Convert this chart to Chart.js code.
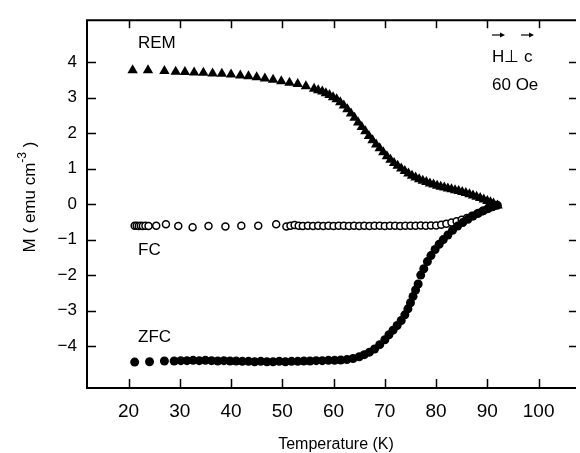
<!DOCTYPE html>
<html>
<head>
<meta charset="utf-8">
<script src="https://cdn.jsdelivr.net/npm/chart.js@4.4.1/dist/chart.umd.min.js"></script>
<style>
  html, body { margin: 0; padding: 0; background: #fff; }
  canvas { display: block; }
</style>
</head>
<body>
<canvas id="chart" width="580" height="453"></canvas>
<script>
// ticks
let xTicks = [20, 30, 40, 50, 60, 70, 80, 90, 100];
let yTicks = [-4, -3, -2, -1, 0, 1, 2, 3, 4];

// remanent (triangles)
let remT = [20.8, 23.8, 27.0, 29.2, 31.0, 32.8, 34.6, 36.4, 38.2, 40.0, 41.8, 43.4, 45.0, 46.6, 48.2, 49.8,
  51.4, 53.0, 54.6, 56.2, 57.0, 57.8, 58.5, 59.2, 59.9, 60.6, 61.3, 62.0, 62.7, 63.4, 64.1, 64.8,
  65.5, 66.2, 66.9, 67.6, 68.3, 69.0, 69.7, 70.4, 71.1, 71.8, 72.5, 73.2, 73.9, 74.6, 75.3, 76.0,
  76.7, 77.4, 78.1, 78.8, 79.5, 80.2, 80.9, 81.6, 82.3, 83.0, 83.7, 84.4, 85.1, 85.8, 86.5, 87.2,
  87.9, 88.6, 89.3, 90.0, 90.6, 91.2, 92.0];
let remM = [3.77, 3.77, 3.75, 3.73, 3.72, 3.71, 3.70, 3.68, 3.67, 3.65, 3.62, 3.60, 3.57, 3.54, 3.50, 3.46,
  3.42, 3.38, 3.32, 3.25, 3.21, 3.17, 3.12, 3.07, 3.01, 2.95, 2.87, 2.78, 2.67, 2.55, 2.43, 2.30,
  2.17, 2.05, 1.92, 1.80, 1.68, 1.57, 1.46, 1.35, 1.25, 1.16, 1.08, 1.00, 0.93, 0.86, 0.80, 0.75,
  0.70, 0.66, 0.62, 0.58, 0.55, 0.52, 0.49, 0.47, 0.44, 0.42, 0.39, 0.37, 0.34, 0.31, 0.28, 0.24,
  0.21, 0.17, 0.13, 0.09, 0.05, 0.02, -0.04];

// field cooled (open circles)
let fcT = [21.2, 21.6, 22.0, 22.4, 22.8, 23.3, 23.9, 25.4, 27.3, 29.7, 32.5, 35.6, 38.9, 42.0, 45.3, 48.8,
  50.8, 51.6, 52.4, 53.2, 54.0, 55.0, 56.0, 57.0, 58.0, 59.0, 60.0, 61.0, 62.0, 63.0, 64.0, 65.0,
  66.0, 67.0, 68.0, 69.0, 70.0, 71.0, 72.0, 73.0, 74.0, 75.0, 76.0, 77.0, 78.0, 79.0, 80.0, 81.0,
  82.0, 83.0, 84.0, 85.0, 86.0, 87.0, 88.0, 89.0, 90.0, 91.0, 92.0];
let fcM = [-0.61, -0.61, -0.62, -0.61, -0.62, -0.61, -0.62, -0.61, -0.57, -0.62, -0.65, -0.62, -0.63, -0.61, -0.61, -0.57,
  -0.63, -0.61, -0.59, -0.61, -0.62, -0.61, -0.62, -0.61, -0.62, -0.61, -0.62, -0.61, -0.61, -0.62, -0.61, -0.62,
  -0.61, -0.62, -0.61, -0.61, -0.62, -0.61, -0.61, -0.62, -0.61, -0.61, -0.61, -0.60, -0.61, -0.60, -0.60, -0.58,
  -0.55, -0.52, -0.48, -0.44, -0.39, -0.33, -0.27, -0.20, -0.14, -0.08, -0.03];

// zero field cooled (filled circles)
let zfcT = [21.2, 24.1, 27.0, 28.9, 30.2, 31.4, 32.6, 33.8, 35.0, 36.2, 37.4, 38.6, 39.8, 41.0, 42.2, 43.4,
  44.6, 45.8, 47.0, 48.2, 49.4, 50.6, 51.8, 53.0, 54.2, 55.4, 56.6, 57.8, 59.0, 60.2, 61.4, 62.6,
  63.8, 65.0, 66.0, 67.0, 68.0, 69.0, 70.0, 70.8, 71.6, 72.4, 73.2, 73.9, 74.5, 75.0, 75.5, 76.0,
  76.5, 77.0, 77.6, 78.3, 79.0, 79.8, 80.6, 81.4, 82.3, 83.2, 84.2, 85.2, 86.2, 87.2, 88.2, 89.2,
  90.2, 91.0, 91.8];
let zfcM = [-4.45, -4.44, -4.42, -4.42, -4.41, -4.41, -4.40, -4.41, -4.40, -4.41, -4.42, -4.41, -4.42, -4.42, -4.43, -4.43,
  -4.44, -4.43, -4.44, -4.44, -4.43, -4.44, -4.43, -4.43, -4.42, -4.42, -4.41, -4.41, -4.40, -4.40, -4.39, -4.38,
  -4.35, -4.30, -4.24, -4.17, -4.08, -3.96, -3.82, -3.68, -3.55, -3.42, -3.28, -3.12, -2.95, -2.78, -2.60, -2.42,
  -2.25, -2.00, -1.82, -1.62, -1.45, -1.28, -1.13, -1.00, -0.87, -0.74, -0.62, -0.52, -0.43, -0.34, -0.26, -0.19,
  -0.12, -0.07, -0.03];

const FONT = "'Liberation Sans', Arial, sans-serif";

function pts(ts, ms){
    return ts.map((t,i)=>({x:t, y:ms[i]}));
}

// frame with inward ticks + text labels
const framePlugin = {
    id: "frame",
    afterDraw(chart){
        const ctx = chart.ctx;
        const a = chart.chartArea;
        const x = chart.scales.x, y = chart.scales.y;
        ctx.save();
        ctx.strokeStyle = "#000";
        ctx.lineWidth = 2;
        ctx.beginPath();
        ctx.moveTo(a.right + 2, a.top);
        ctx.lineTo(a.left, a.top);
        ctx.lineTo(a.left, a.bottom);
        ctx.lineTo(a.right + 2, a.bottom);
        ctx.stroke();

        ctx.lineWidth = 1.5;
        ctx.beginPath();
        xTicks.forEach(v=>{
            let px = Math.round(x.getPixelForValue(v)) + 0.5;
            ctx.moveTo(px, a.bottom); ctx.lineTo(px, a.bottom - 9);
            ctx.moveTo(px, a.top); ctx.lineTo(px, a.top + 8);
        });
        yTicks.forEach(v=>{
            let py = Math.round(y.getPixelForValue(v)) + 0.5;
            ctx.moveTo(a.left, py); ctx.lineTo(a.left + 9, py);
            ctx.moveTo(a.right + 2, py); ctx.lineTo(a.right - 5, py);
        });
        ctx.stroke();

        ctx.fillStyle = "#000";
        ctx.textBaseline = "alphabetic";
        ctx.textAlign = "left";
        ctx.font = "17px " + FONT;
        ctx.fillText("REM", 138, 48);
        ctx.fillText("FC", 138, 255);
        ctx.fillText("ZFC", 138, 342);
        ctx.fillText("H\u22A5 c", 492, 62);
        ctx.fillText("60 Oe", 492, 90);

        // little arrows over H and c
        ctx.lineWidth = 1.2;
        [[492, 505], [521, 534]].forEach(s=>{
            ctx.beginPath();
            ctx.moveTo(s[0], 35); ctx.lineTo(s[1] - 3, 35);
            ctx.stroke();
            ctx.beginPath();
            ctx.moveTo(s[1], 35); ctx.lineTo(s[1] - 5, 32.5); ctx.lineTo(s[1] - 5, 37.5);
            ctx.closePath(); ctx.fill();
        });

        // axis titles
        ctx.font = "16px " + FONT;
        ctx.textAlign = "center";
        ctx.fillText("Temperature (K)", 336, 449);

        ctx.translate(35, 197);
        ctx.rotate(-Math.PI/2);
        let f1 = "17px " + FONT, f2 = "12px " + FONT;
        let p1 = "M ( emu cm", p2 = "-3", p3 = " )";
        ctx.font = f1; let w1 = ctx.measureText(p1).width, w3 = ctx.measureText(p3).width;
        ctx.font = f2; let w2 = ctx.measureText(p2).width;
        let start = -(w1 + w2 + w3)/2;
        ctx.textAlign = "left";
        ctx.font = f1; ctx.fillText(p1, start, 0);
        ctx.font = f2; ctx.fillText(p2, start + w1, -9);
        ctx.font = f1; ctx.fillText(p3, start + w1 + w2, 0);
        ctx.restore();
    }
};

new Chart(document.getElementById("chart"), {
    type: "scatter",
    data: {
        datasets: [
            {
                label: "ZFC",
                data: pts(zfcT, zfcM),
                pointStyle: "circle",
                pointRadius: 4.5,
                backgroundColor: "#000",
                borderColor: "#000",
                borderWidth: 0
            },
            {
                label: "FC",
                data: pts(fcT, fcM),
                pointStyle: "circle",
                pointRadius: 3.5,
                backgroundColor: "#fff",
                borderColor: "#000",
                borderWidth: 1.5
            },
            {
                label: "REM",
                data: pts(remT, remM),
                pointStyle: "triangle",
                pointRadius: 6,
                backgroundColor: "#000",
                borderColor: "#000",
                borderWidth: 0
            }
        ]
    },
    options: {
        responsive: false,
        animation: false,
        layout: { padding: { top: 12, right: 1, left: 0, bottom: 0 } },
        scales: {
            x: {
                type: "linear",
                min: 11.9,
                max: 106.9,
                grid: { display: false, drawTicks: false },
                border: { display: false },
                afterBuildTicks: ax => { ax.ticks = xTicks.map(v=>({value:v})); },
                afterFit: s => { s.height = 65; },
                ticks: {
                    autoSkip: false,
                    maxRotation: 0,
                    padding: 12,
                    color: "#000",
                    font: { size: 19, family: FONT }
                }
            },
            y: {
                type: "linear",
                min: -5.18,
                max: 5.18,
                grid: { display: false, drawTicks: false },
                border: { display: false },
                afterBuildTicks: ax => { ax.ticks = yTicks.map(v=>({value:v})); },
                afterFit: s => { s.width = 87; },
                ticks: {
                    autoSkip: false,
                    padding: 10,
                    color: "#000",
                    font: { size: 17, family: FONT },
                    callback: v => String(v).replace("-", "\u2212")
                }
            }
        },
        plugins: {
            legend: { display: false },
            tooltip: { enabled: false }
        }
    },
    plugins: [framePlugin]
});
</script>
</body>
</html>
